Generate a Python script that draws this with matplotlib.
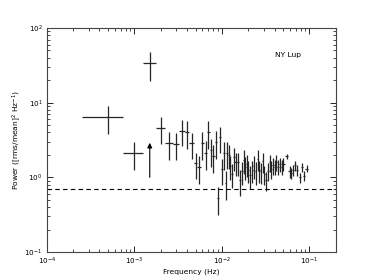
"""
Power spectrum of NY Lup: recreated from a small reference figure.

Writes out.png
"""

import matplotlib

matplotlib.use("Agg")
import matplotlib.pyplot as plt
import numpy as np

# Low-frequency bins (wide)
low_freq = [5e-4, 1e-3, 1.5e-3]
low_freq_err = [2.5e-4, 2.5e-4, 2.5e-4]
low_power = [6.4, 2.1, 33.5]
low_power_err = [2.6, 0.85, 13.7]

# Dense part of the spectrum
freq = [0.002, 0.0025, 0.003, 0.0035, 0.004, 0.0045, 0.005, 0.0055, 0.006, 0.0065,
        0.007, 0.0075, 0.008, 0.0085, 0.009, 0.0095, 0.010, 0.0105, 0.011, 0.0115,
        0.012, 0.0125, 0.013, 0.0136, 0.0143, 0.0152, 0.016, 0.0168, 0.0178, 0.0185,
        0.0194, 0.0201, 0.0212, 0.0223, 0.023, 0.0242, 0.0255, 0.0268, 0.0277, 0.0291,
        0.0306, 0.0317, 0.0333, 0.035, 0.0362, 0.0381, 0.040, 0.042, 0.0442, 0.0465,
        0.0488, 0.0504, 0.055, 0.0593, 0.062, 0.065, 0.0685, 0.072, 0.0785, 0.082,
        0.086, 0.093]
power = [4.6, 2.9, 2.8, 4.2, 4.0, 2.85, 1.55, 1.37, 2.85, 2.14,
         4.0, 2.33, 1.93, 2.94, 0.53, 3.44, 1.28, 2.1, 0.85, 2.15,
         2.0, 1.43, 1.11, 1.85, 1.6, 1.6, 0.92, 1.2, 1.71, 1.39,
         1.5, 1.26, 1.07, 1.26, 1.44, 1.2, 1.78, 1.24, 1.2, 1.65,
         1.11, 0.92, 1.23, 1.6, 1.3, 1.45, 1.39, 1.6, 1.39, 1.5,
         1.39, 1.51, 1.93, 1.2, 1.15, 1.25, 1.45, 1.25, 1.0, 1.38,
         1.05, 1.31]
power_err = [1.8, 1.2, 1.1, 1.6, 1.6, 1.1, 0.6, 0.55, 1.15, 0.9,
             1.6, 0.95, 0.8, 1.2, 0.22, 1.35, 0.5, 0.85, 0.35, 0.85,
             0.7, 0.5, 0.4, 0.65, 0.55, 0.55, 0.35, 0.42, 0.6, 0.48,
             0.5, 0.42, 0.37, 0.42, 0.48, 0.4, 0.55, 0.4, 0.38, 0.5,
             0.33, 0.27, 0.33, 0.42, 0.34, 0.36, 0.33, 0.38, 0.32, 0.33,
             0.3, 0.3, 0.15, 0.22, 0.2, 0.2, 0.22, 0.2, 0.16, 0.2,
             0.16, 0.14]

# Upper-limit style arrow at 1.5 mHz
arrow_freq = 1.5e-3
arrow_from = 1.0
arrow_to = 2.9

noise_level = 0.69
label = "NY Lup"


def main():
    plt.rcParams["font.family"] = "DejaVu Sans"
    plt.rcParams["mathtext.fontset"] = "dejavusans"

    fig, ax = plt.subplots(figsize=(3.74, 2.8), dpi=100)
    fig.subplots_adjust(left=0.125, right=0.898, bottom=0.1, top=0.9)

    ecol = "#262626"
    ax.errorbar(low_freq, low_power, xerr=low_freq_err, yerr=low_power_err,
                fmt="none", ecolor=ecol, elinewidth=0.9, capsize=0)

    f = np.array(freq)
    f_half = 0.5 * np.gradient(f)  # half of the bin spacing
    ax.errorbar(f, power, xerr=f_half, yerr=power_err,
                fmt="none", ecolor=ecol, elinewidth=0.9, capsize=0)

    ax.annotate("", xy=(arrow_freq, arrow_to), xytext=(arrow_freq, arrow_from),
                arrowprops=dict(arrowstyle="-|>", color="k", lw=0.8,
                                mutation_scale=7, shrinkA=0, shrinkB=0))

    ax.axhline(noise_level, color="k", linestyle="--", linewidth=0.8,
               dashes=(4, 3))

    ax.text(0.04, 43, label, fontsize=5.4, va="center", ha="left")

    ax.set_xscale("log")
    ax.set_yscale("log")
    ax.set_xlim(1e-4, 0.2)
    ax.set_ylim(0.1, 100)

    ax.set_xlabel("Frequency (Hz)", fontsize=5.4, labelpad=1)
    ax.set_ylabel(r"Power ([rms/mean]$^2$ Hz$^{-1}$)", fontsize=5.4, labelpad=1)

    ax.tick_params(which="both", direction="in", top=True, right=True,
                   labelsize=5.2)
    ax.tick_params(axis="x", pad=2.5)
    ax.tick_params(axis="y", pad=3)
    ax.tick_params(which="major", length=4, width=0.6)
    ax.tick_params(which="minor", length=2, width=0.5)
    for s in ax.spines.values():
        s.set_linewidth(0.8)
        s.set_color("#444444")

    fig.savefig("out.png", dpi=100)
    plt.close(fig)


if __name__ == "__main__":
    main()
